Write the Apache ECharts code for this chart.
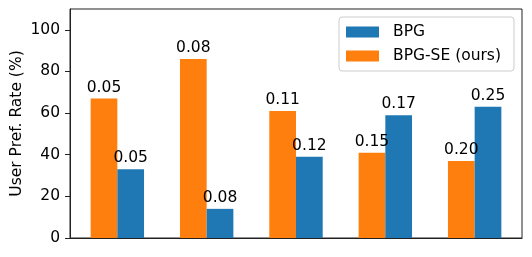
<!DOCTYPE html>
<html><head><meta charset="utf-8">
<script src="https://cdn.jsdelivr.net/npm/echarts@6/dist/echarts.min.js"></script>
<style>html,body{margin:0;padding:0;background:#fff}#c{width:532px;height:257px}</style>
</head><body><div id="c"></div>
<script>
var positions = [0, 1, 2, 3, 4];
var bpgSE = [67, 86, 61, 41, 37];
var bpg = [33, 14, 39, 59, 63];
var bpgSELabels = ['0.05', '0.08', '0.11', '0.15', '0.20'];
var bpgLabels = ['0.05', '0.08', '0.12', '0.17', '0.25'];
var yTicks = [0, 20, 40, 60, 80, 100];

var FONT = 'DejaVu Sans';
var FS = 15.5;
function mk(vals, labels) {
  return vals.map(function (v, i) {
    return { value: [positions[i], v], label: { formatter: labels[i] } };
  });
}
var chart = echarts.init(document.getElementById('c'));
chart.setOption({
  animation: false,
  textStyle: { fontFamily: FONT },
  grid: { left: 70, top: 9, right: 10, bottom: 19, outerBoundsMode: 'none', show: true, borderColor: '#222', borderWidth: 1, backgroundColor: 'transparent' },
  legend: {
    data: ['BPG', 'BPG-SE (ours)'], orient: 'vertical', left: 339, top: 17,
    itemWidth: 33, itemHeight: 11, itemGap: 8, icon: 'rect',
    padding: [7, 13, 7, 7], backgroundColor: '#fff', borderColor: '#ccc', borderWidth: 1, borderRadius: 3,
    textStyle: { fontFamily: FONT, fontSize: FS, color: '#000', padding: [0, 0, 0, 9] }
  },
  xAxis: {
    type: 'value', min: -0.53, max: 4.53,
    axisLine: { show: true, lineStyle: { color: '#222' } }, axisTick: { show: false }, axisLabel: { show: false }, splitLine: { show: false }
  },
  yAxis: {
    type: 'value', min: 0, max: 110, interval: 20,
    name: 'User Pref. Rate (%)', nameLocation: 'middle', nameGap: 45, nameMoveOverlap: false,
    nameTextStyle: { fontFamily: FONT, fontSize: FS, color: '#000' },
    axisLine: { show: true, onZero: false, lineStyle: { color: '#222' } },
    axisTick: { show: true, length: 5, customValues: yTicks, lineStyle: { color: '#222' } },
    axisLabel: { customValues: yTicks, margin: 10, fontFamily: FONT, fontSize: FS, color: '#000' },
    splitLine: { show: false }
  },
  series: [
    { name: 'BPG-SE (ours)', type: 'bar', barWidth: 26.7, barGap: '0%', itemStyle: { color: '#ff7f0e' },
      label: { show: true, position: 'top', distance: 3, fontFamily: FONT, fontSize: FS, color: '#000' },
      data: mk(bpgSE, bpgSELabels) },
    { name: 'BPG', type: 'bar', barWidth: 26.7, barGap: '0%', itemStyle: { color: '#1f77b4' },
      label: { show: true, position: 'top', distance: 3, fontFamily: FONT, fontSize: FS, color: '#000' },
      data: mk(bpg, bpgLabels) }
  ]
});
</script></body></html>
